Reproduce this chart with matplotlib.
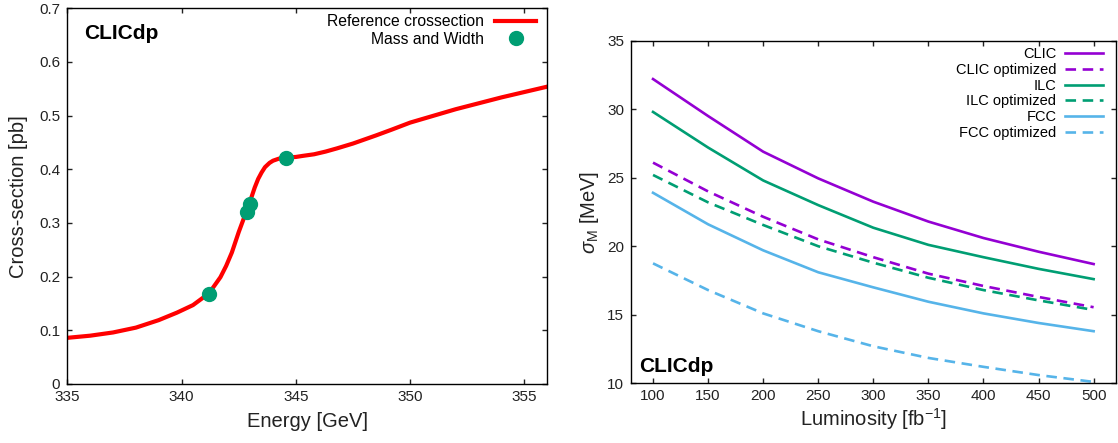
import matplotlib.pyplot as plt

plt.rcParams['font.family'] = ['Liberation Sans', 'DejaVu Sans']
plt.rcParams['mathtext.fontset'] = 'custom'
plt.rcParams['mathtext.rm'] = 'Liberation Sans'
plt.rcParams['mathtext.it'] = 'Liberation Sans:italic'
plt.rcParams['mathtext.bf'] = 'Liberation Sans:bold'

# left panel - threshold scan
energy = [335, 336, 337, 338, 339, 339.8, 340.5, 341.2, 341.7, 341.95, 342.2, 342.35, 342.5,
          342.7, 342.85, 343.05, 343.2, 343.35, 343.5, 343.65, 343.85, 344.0, 344.2, 344.35,
          344.55, 345, 345.3, 345.8, 346.3, 346.8, 347.5, 348.5, 349.2, 350, 352, 354, 356]
xsec = [0.086, 0.090, 0.096, 0.105, 0.119, 0.133, 0.147, 0.169, 0.199, 0.220, 0.245, 0.264, 0.283,
        0.306, 0.324, 0.347, 0.366, 0.382, 0.394, 0.404, 0.412, 0.416, 0.419, 0.421,
        0.422, 0.423, 0.425, 0.428, 0.433, 0.439, 0.448, 0.463, 0.474, 0.487, 0.512, 0.534, 0.554]
mw_energy = [341.2, 342.85, 343.0, 344.55]
mw_xsec = [0.168, 0.321, 0.335, 0.421]

energy_ticks = [335, 340, 345, 350, 355]
xsec_ticks = [0, 0.1, 0.2, 0.3, 0.4, 0.5, 0.6, 0.7]
xsec_ticklabels = ["0", "0.1", "0.2", "0.3", "0.4", "0.5", "0.6", "0.7"]

# right panel - mass precision vs luminosity
lumi = [100, 150, 200, 250, 300, 350, 400, 450, 500]
clic = [32.2, 29.5, 26.9, 24.95, 23.25, 21.8, 20.6, 19.6, 18.7]
clic_opt = [26.1, 24.0, 22.15, 20.5, 19.2, 18.0, 17.1, 16.3, 15.55]
ilc = [29.8, 27.2, 24.8, 23.0, 21.35, 20.1, 19.2, 18.35, 17.6]
ilc_opt = [25.2, 23.2, 21.55, 20.0, 18.8, 17.7, 16.8, 16.05, 15.35]
fcc = [23.9, 21.6, 19.7, 18.1, 17.0, 15.95, 15.1, 14.4, 13.8]
fcc_opt = [18.75, 16.8, 15.1, 13.8, 12.7, 11.85, 11.2, 10.6, 10.1]

lumi_ticks = [100, 150, 200, 250, 300, 350, 400, 450, 500]
sigma_ticks = [10, 15, 20, 25, 30, 35]

purple = "#9400D3"
green = "#009E73"
blue = "#56B4E9"


def style_axes(ax):
    for s in ax.spines.values():
        s.set_linewidth(1.0)
    ax.tick_params(direction="in", length=3.5, width=1.0, top=True, right=True,
                   labelsize=11, colors="#222222", labelcolor="#222222")
    ax.tick_params(axis="x", pad=4)
    ax.tick_params(axis="y", pad=5)


def right_legend(ax, **kw):
    leg = ax.legend(markerfirst=False, frameon=False, borderpad=0,
                    borderaxespad=0, loc="upper right", **kw)
    for col in leg._legend_box._children[-1]._children:
        col.align = "right"
    return leg


fig = plt.figure(figsize=(11.18, 4.43), dpi=100)

ax1 = fig.add_axes([0.0602, 0.1332, 0.4293, 0.8481])
ax1.plot(energy, xsec, color="red", lw=3.0, label="Reference crossection", zorder=2)
ax1.plot(mw_energy, mw_xsec, "o", color=green, ms=10, ls="none", label="Mass and Width", zorder=3)
ax1.set_xlim(335, 356)
ax1.set_ylim(0, 0.7)
ax1.set_xticks(energy_ticks)
ax1.set_yticks(xsec_ticks)
ax1.set_yticklabels(xsec_ticklabels)
style_axes(ax1)
ax1.set_xlabel("Energy [GeV]", fontsize=14.5, labelpad=6, color="#222222")
ax1.set_ylabel("Cross-section [pb]", fontsize=14.5, labelpad=8, color="#222222")
ax1.text(0.035, 0.917, "CLICdp", transform=ax1.transAxes, fontsize=15, fontweight="bold",
         va="baseline", ha="left")
right_legend(ax1, bbox_to_anchor=(1 - 11 / 480, 1 - 6 / 375.7), fontsize=11.3,
             handlelength=2.6, handletextpad=0.7, labelspacing=0.17, numpoints=1)

ax2 = fig.add_axes([0.5644, 0.1348, 0.4335, 0.7734])
ax2.plot(lumi, clic, color=purple, lw=1.9, label="CLIC")
ax2.plot(lumi, clic_opt, color=purple, lw=1.9, dashes=(4, 2.5), label="CLIC optimized")
ax2.plot(lumi, ilc, color=green, lw=1.9, label="ILC")
ax2.plot(lumi, ilc_opt, color=green, lw=1.9, dashes=(4, 2.5), label="ILC optimized")
ax2.plot(lumi, fcc, color=blue, lw=1.9, label="FCC")
ax2.plot(lumi, fcc_opt, color=blue, lw=1.9, dashes=(4, 2.5), label="FCC optimized")
ax2.set_xlim(80, 520)
ax2.set_ylim(10, 35)
ax2.set_xticks(lumi_ticks)
ax2.set_yticks(sigma_ticks)
style_axes(ax2)
ax2.set_xlabel(r"Luminosity [fb$^{-1}$]", fontsize=14.5, labelpad=2, color="#222222")
ax2.set_ylabel(r"$\sigma_{\rm M}$ [MeV]", fontsize=14.5, labelpad=4, color="#222222")
ax2.text(0.0165, 0.033, "CLICdp", transform=ax2.transAxes, fontsize=15, fontweight="bold",
         va="baseline", ha="left")
right_legend(ax2, bbox_to_anchor=(1 - 12.7 / 484.7, 1 - 6.5 / 342.6), fontsize=10.5,
             handlelength=2.6, handletextpad=0.6, labelspacing=0.12)

fig.savefig("out.png", dpi=100)
